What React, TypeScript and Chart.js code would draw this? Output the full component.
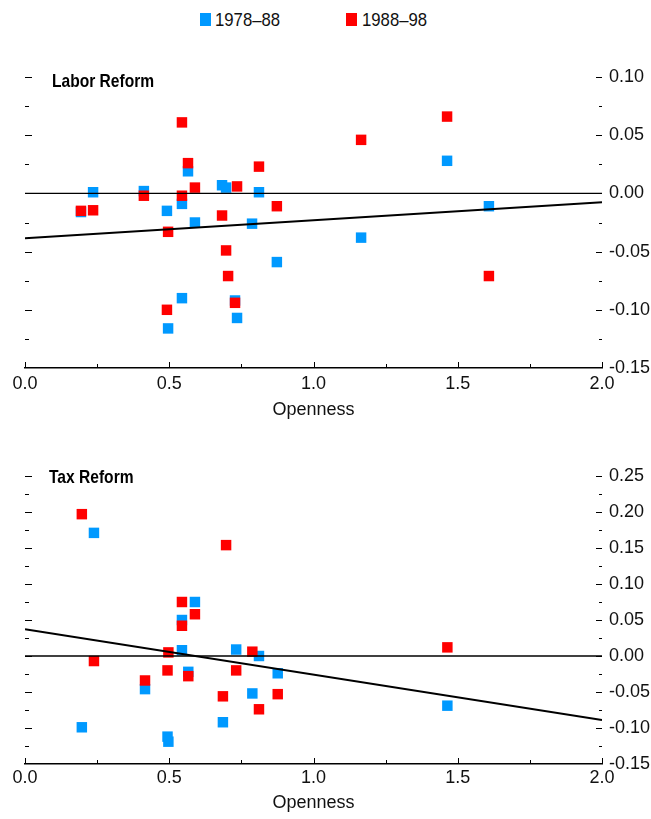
import React, { useEffect, useRef } from "react";
import { Chart, registerables } from "chart.js";

Chart.register(...registerables);

const FONT = "'Liberation Sans Narrow', 'Arial Narrow', 'Liberation Sans', Arial, sans-serif";
const BLUE = "#0099FF";
const RED = "#FF0000";

const seriesNames = ["1978–88", "1988–98"];
const xTickLabels = ["0.0", "0.5", "1.0", "1.5", "2.0"];

// Labor reform panel
const laborOpen78 = [0.194, 0.236, 0.412, 0.492, 0.544, 0.565, 0.589, 0.683, 0.697, 0.811, 0.787, 0.873, 0.544, 0.728, 0.735, 0.496, 1.165, 1.463, 1.608];
const laborVal78 = [-0.016, 0.001, 0.002, -0.015, -0.009, 0.019, -0.025, 0.007, 0.005, 0.001, -0.026, -0.059, -0.09, -0.092, -0.107, -0.116, -0.038, 0.028, -0.011];
const laborOpen88 = [0.194, 0.236, 0.412, 0.544, 0.565, 0.589, 0.544, 0.496, 0.683, 0.735, 0.811, 0.873, 0.697, 0.704, 0.728, 0.492, 1.165, 1.463, 1.608];
const laborVal88 = [-0.015, -0.0145, -0.002, 0.061, 0.026, 0.005, -0.002, -0.033, -0.019, 0.006, 0.023, -0.011, -0.049, -0.071, -0.094, -0.1, 0.046, 0.066, -0.071];
const laborFitX = [0, 2];
const laborFitY = [-0.0385, -0.0075];

// Tax reform panel
const taxOpen78 = [0.239, 0.589, 0.544, 0.544, 0.566, 0.416, 0.732, 0.811, 0.876, 0.788, 0.686, 0.197, 0.494, 0.497, 1.464];
const taxVal78 = [0.171, 0.075, 0.05, 0.008, -0.022, -0.046, 0.009, 0.0, -0.024, -0.052, -0.092, -0.099, -0.112, -0.119, -0.069];
const taxOpen88 = [0.197, 0.697, 0.544, 0.589, 0.544, 0.239, 0.497, 0.494, 0.566, 0.416, 0.788, 0.732, 0.686, 0.876, 0.811, 1.464];
const taxVal88 = [0.197, 0.154, 0.075, 0.058, 0.042, -0.007, 0.005, -0.02, -0.028, -0.034, 0.006, -0.02, -0.056, -0.053, -0.074, 0.012];
const taxFitX = [0, 2];
const taxFitY = [0.037, -0.089];

const zeroX = [0, 2];
const zeroY = [0, 0];

const pts = (xs: number[], ys: number[]) => xs.map((x, i) => ({ x, y: ys[i] }));

function makeConfig(opts: {
  title: string;
  titleX: number;
  titleDy: number;
  yMin: number;
  yMax: number;
  topPad: number;
  xAxisHeight: number;
  titlePadBottom: number;
  tickPad: number;
  o78: number[]; v78: number[]; o88: number[]; v88: number[];
  fx: number[]; fy: number[];
}): any {
  const tickPlugin = {
    id: "ticksAndTitle",
    afterDraw(chart: any) {
      const { ctx, chartArea } = chart;
      const xs = chart.scales.x;
      const ys = chart.scales.y;
      ctx.save();
      ctx.strokeStyle = "#000";
      ctx.lineWidth = 1;
      // x ticks (inward)
      for (let i = 0; i <= 8; i++) {
        const v = i * 0.25;
        const px = Math.round(xs.getPixelForValue(v)) + 0.5;
        const len = i % 2 === 0 ? 6 : 4;
        ctx.beginPath();
        ctx.moveTo(px, chartArea.bottom);
        ctx.lineTo(px, chartArea.bottom - len);
        ctx.stroke();
      }
      // y ticks left and right
      const n = Math.round((opts.yMax - opts.yMin) / 0.025);
      for (let i = 1; i <= n; i++) {
        const v = opts.yMin + i * 0.025;
        const py = Math.round(ys.getPixelForValue(v)) + 0.5;
        const major = i % 2 === 0;
        const lenL = major ? 7 : 4;
        const lenR = major ? 6 : 3;
        ctx.beginPath();
        ctx.moveTo(chartArea.left, py);
        ctx.lineTo(chartArea.left + lenL, py);
        ctx.moveTo(chartArea.right - lenR, py);
        ctx.lineTo(chartArea.right, py);
        ctx.stroke();
      }
      // panel title (condensed)
      ctx.fillStyle = "#000";
      ctx.font = `bold 19px ${FONT}`;
      ctx.textAlign = "left";
      ctx.textBaseline = "alphabetic";
      ctx.translate(opts.titleX, chartArea.top + opts.titleDy);
      ctx.scale(0.82, 1);
      ctx.fillText(opts.title, 0, 0);
      ctx.restore();
    },
  };

  return {
    type: "scatter",
    data: {
      datasets: [
        {
          type: "line",
          label: "fit",
          data: pts(opts.fx, opts.fy),
          borderColor: "#000",
          borderWidth: 2,
          pointRadius: 0,
          fill: false,
          order: 0,
        },
        {
          type: "line",
          label: "zero",
          data: pts(zeroX, zeroY),
          borderColor: "#000",
          borderWidth: 1.3,
          pointRadius: 0,
          fill: false,
          order: 0,
        },
        {
          label: seriesNames[1],
          data: pts(opts.o88, opts.v88),
          backgroundColor: RED,
          borderWidth: 0,
          pointStyle: "rect",
          pointRadius: 7.4,
          order: 1,
        },
        {
          label: seriesNames[0],
          data: pts(opts.o78, opts.v78),
          backgroundColor: BLUE,
          borderWidth: 0,
          pointStyle: "rect",
          pointRadius: 7.4,
          order: 2,
        },
      ],
    },
    options: {
      animation: false,
      responsive: false,
      maintainAspectRatio: false,
      layout: { padding: { top: opts.topPad, left: 25, right: 0, bottom: 0 } },
      plugins: { legend: { display: false }, tooltip: { enabled: false } },
      scales: {
        x: {
          type: "linear",
          position: "bottom",
          min: 0,
          max: 2,
          grid: { display: false, drawTicks: false },
          border: { display: true, color: "#000", width: 1.5 },
          ticks: {
            stepSize: 0.5,
            padding: opts.tickPad,
            color: "#111",
            font: { family: FONT, size: 18 },
            maxRotation: 0,
            callback: (v: number) => xTickLabels[Math.round(v / 0.5)] ?? "",
          },
          title: {
            display: true,
            text: "Openness",
            color: "#111",
            font: { family: FONT, size: 18 },
            padding: { top: 0, bottom: opts.titlePadBottom },
          },
          afterFit: (s: any) => { s.height = opts.xAxisHeight; },
        },
        y: {
          type: "linear",
          position: "right",
          min: opts.yMin,
          max: opts.yMax,
          grid: { display: false, drawTicks: false },
          border: { display: false },
          ticks: {
            stepSize: 0.05,
            padding: 7,
            color: "#111",
            font: { family: FONT, size: 18 },
            callback: (v: number) => (Math.abs(v) < 1e-9 ? "0.00" : Number(v).toFixed(2)),
          },
          afterFit: (s: any) => { s.width = 49; },
        },
      },
    },
    plugins: [tickPlugin],
  };
}

export default function App() {
  const topRef = useRef<HTMLCanvasElement | null>(null);
  const botRef = useRef<HTMLCanvasElement | null>(null);

  useEffect(() => {
    const c1 = new Chart(topRef.current as HTMLCanvasElement, makeConfig({
      title: "Labor Reform", titleX: 52, titleDy: 10,
      yMin: -0.15, yMax: 0.1, topPad: 77, xAxisHeight: 54, titlePadBottom: 1, tickPad: 5,
      o78: laborOpen78, v78: laborVal78, o88: laborOpen88, v88: laborVal88,
      fx: laborFitX, fy: laborFitY,
    }));
    const c2 = new Chart(botRef.current as HTMLCanvasElement, makeConfig({
      title: "Tax Reform", titleX: 49, titleDy: 7,
      yMin: -0.15, yMax: 0.25, topPad: 54, xAxisHeight: 55, titlePadBottom: 5, tickPad: 3,
      o78: taxOpen78, v78: taxVal78, o88: taxOpen88, v88: taxVal88,
      fx: taxFitX, fy: taxFitY,
    }));
    return () => { c1.destroy(); c2.destroy(); };
  }, []);

  const legendText: React.CSSProperties = {
    position: "absolute", top: 8, fontFamily: FONT, fontSize: 19, lineHeight: "23px", color: "#111",
    transform: "scaleX(0.88)", transformOrigin: "0 0", whiteSpace: "nowrap",
  };

  return (
    <div style={{ position: "fixed", left: 0, top: 0, width: 651, height: 819, background: "#fff" }}>
      <div style={{ position: "absolute", left: 200, top: 13, width: 11, height: 13, background: BLUE }} />
      <div style={{ ...legendText, left: 215 }}>{seriesNames[0]}</div>
      <div style={{ position: "absolute", left: 346, top: 13, width: 11, height: 13, background: RED }} />
      <div style={{ ...legendText, left: 362 }}>{seriesNames[1]}</div>
      <canvas ref={topRef} width={651} height={422} style={{ position: "absolute", left: 0, top: 0, width: 651, height: 422 }} />
      <canvas ref={botRef} width={651} height={397} style={{ position: "absolute", left: 0, top: 422, width: 651, height: 397 }} />
    </div>
  );
}
